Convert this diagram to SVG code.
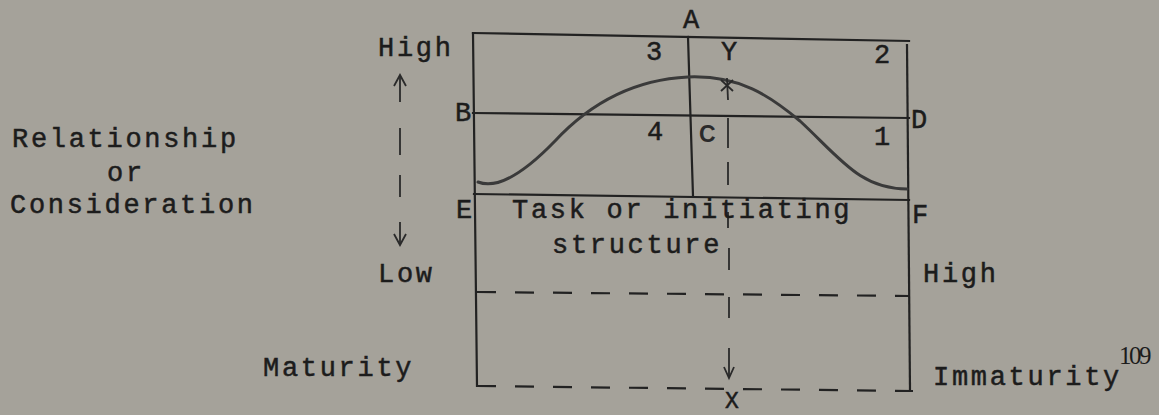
<svg xmlns="http://www.w3.org/2000/svg" width="1159" height="415" viewBox="0 0 1159 415">
<style>
.t{font-family:"Liberation Mono","DejaVu Sans Mono",monospace;font-size:27px;fill:#1c1c1c;stroke:#1c1c1c;stroke-width:0.5px;letter-spacing:2.7px}
.ln{stroke:#222;stroke-width:2.2;fill:none;stroke-linecap:square}
.ds{stroke:#222;stroke-width:2.2;fill:none;stroke-dasharray:19 19}
.vd{stroke:#2a2a2a;stroke-width:1.8;fill:none}
.cv{stroke:#3a3a3a;stroke-width:3;fill:none;stroke-linecap:round}
</style>
<rect width="1159" height="415" fill="#a5a29a"/>
<g id="frame">
<line class="ln" x1="473" y1="33" x2="909" y2="41"/>
<line class="ln" x1="473" y1="33" x2="477" y2="386"/>
<line class="ln" x1="907" y1="45" x2="910" y2="390"/>
<line class="ln" x1="688" y1="37" x2="693" y2="196"/>
<line class="ln" x1="473" y1="113" x2="909" y2="118"/>
<line class="ln" x1="474" y1="194" x2="909" y2="200"/>
<line class="ds" x1="477" y1="292" x2="910" y2="296"/>
<line class="ds" x1="477" y1="386" x2="913" y2="391"/>
</g>
<g id="curve">
<path class="cv" d="M478,182 C498,190 525,172 555,141 C582,112 625,80 688,77 C740,75 770,96 800,121 C840,158 860,189 907,189"/>
<g class="vd">
<line x1="727" y1="78" x2="728" y2="100"/>
<line x1="721" y1="80" x2="733" y2="91"/>
<line x1="733" y1="80" x2="721" y2="91"/>
</g>
</g>
<g id="connectors">
<g class="vd">
<line x1="400" y1="75" x2="400" y2="102"/>
<polyline points="394,86 400,75 406,86"/>
<line x1="400" y1="128" x2="400" y2="155"/>
<line x1="400" y1="175" x2="400" y2="197"/>
<line x1="400" y1="222" x2="400" y2="245"/>
<polyline points="394,234 400,245 406,234"/>
<line x1="728" y1="118" x2="728" y2="148"/>
<line x1="728" y1="162" x2="728" y2="185"/>
<line x1="728" y1="212" x2="728" y2="228"/>
<line x1="729" y1="248" x2="729" y2="270"/>
<line x1="729" y1="297" x2="729" y2="318"/>
<line x1="729" y1="348" x2="729" y2="378"/>
<polyline points="724,367 729,378 734,367"/>
</g>
</g>
<g id="labels">
<text class="t" x="12" y="147">Relationship</text>
<text class="t" x="107" y="181">or</text>
<text class="t" x="10" y="213">Consideration</text>
<text class="t" x="378" y="56">High</text>
<text class="t" x="378" y="282">Low</text>
<text class="t" x="683" y="28">A</text>
<text class="t" x="455" y="121">B</text>
<text class="t" x="456" y="218">E</text>
<text class="t" x="911" y="128">D</text>
<text class="t" x="912" y="223">F</text>
<text class="t" x="646" y="60">3</text>
<text class="t" x="721" y="60">Y</text>
<text class="t" x="874" y="63">2</text>
<text class="t" x="647" y="140">4</text>
<text class="t" x="874" y="145">1</text>
<text x="699" y="142" style="font-family:'Liberation Sans',sans-serif;font-size:23px;font-weight:bold;fill:#2a2a2a">C</text>
<text class="t" x="512" y="218">Task or initiating</text>
<text class="t" x="552" y="253">structure</text>
<text class="t" x="923" y="282">High</text>
<text class="t" x="263" y="376">Maturity</text>
<text class="t" x="933" y="385">Immaturity</text>
<text x="1119" y="364" style="font-family:'Liberation Serif',serif;font-size:25px;fill:#1c1c1c;letter-spacing:-2.5px">109</text>
<text class="t" x="725" y="408" style="font-size:23px">X</text>
</g>
</svg>
